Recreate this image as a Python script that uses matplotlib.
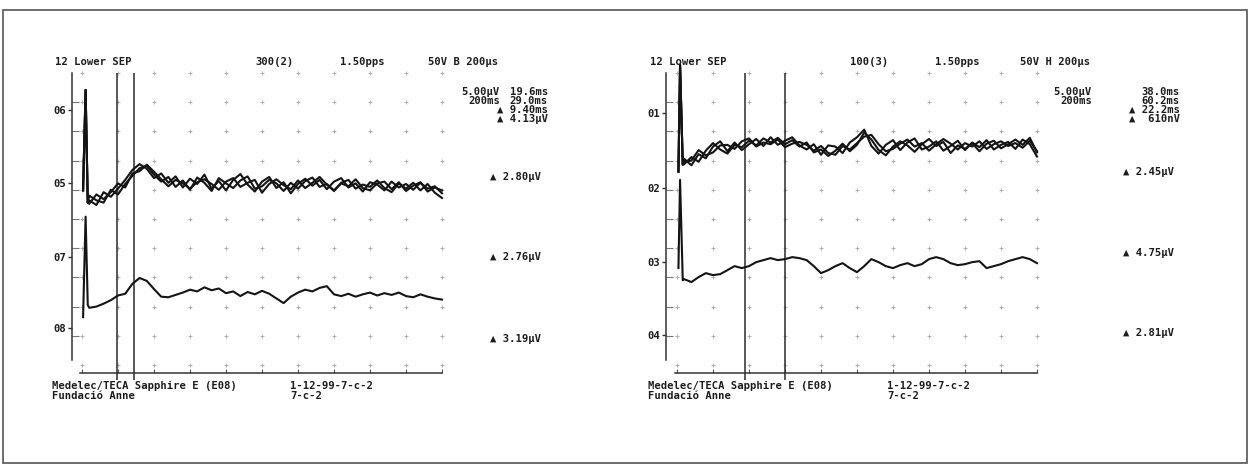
import numpy as np
import matplotlib
matplotlib.use("Agg")
import matplotlib.pyplot as plt
from matplotlib.patches import Rectangle

W, H = 1250, 465

# ---------------- data ----------------
# sample times of the averaged traces after the stimulus artifact (ms)
t_trace = np.arange(4, 201, 4)
# stimulus artifact sample times (ms)
t_art_left = [0.6, 2.0, 3.2]
t_art_right = [0.8, 1.7, 3.2]

# cursors (ms)
left_cursors = [19.6, 29.0]
right_cursors = [38.0, 60.2]

# channel baselines on the display (uV, 5 uV / division)
left_base = [30.8, 12.0]
right_base = [37.2, 17.1]

# channel labels on the amplitude axis
left_chan = ["06", "05", "07", "08"]
right_chan = ["01", "02", "03", "04"]

# left panel, upper channel: three superimposed runs (uV relative to baseline)
left_up_a = [-2.6, -3.4, -1.2, -2.0, -0.6, 0.9, 2.6, 3.6, 2.8, 1.2, 2.0, 0.4, 1.5, -0.4, 1.1, 0.2,
             1.8, -0.6, 0.7, -0.9, 0.9, 1.9, 0.1, -1.1, 0.6, 1.4, -0.5, 0.5, -1.4, 0.2, 1.1, -0.1,
             0.9, -0.7, 0.6, 1.2, -0.4, 0.3, -1.1, 0.5, 0.1, -0.9, 0.6, -0.4, 0.2, -0.8, 0.4, -0.6,
             -0.2, -1.4]
left_up_b = [-1.8, -2.6, -3.0, -0.8, -1.6, 0.2, 1.6, 2.9, 3.3, 1.8, 0.6, 1.4, -0.3, 0.8, -0.8, 1.3,
             0.4, -1.0, 1.2, 0.3, -0.5, 0.8, 1.5, -0.6, -0.2, 0.9, 0.3, -1.0, 0.4, -0.6, 0.7, 1.3,
             -0.3, 0.2, -0.9, 0.4, 0.9, -0.6, 0.1, -0.3, 0.8, -0.5, -1.2, 0.3, -0.6, 0.4, -0.9, 0.2,
             -1.3, -2.2]
left_up_c = [-3.2, -1.6, -2.4, -1.2, 0.3, -0.4, 2.0, 2.4, 3.5, 2.3, 1.0, -0.2, 0.9, 0.3, -0.6, 0.5,
             1.0, 0.2, -0.8, 0.6, 1.2, -0.3, 0.4, 0.9, -1.3, 0.2, 1.0, 0.0, -0.7, 0.8, -0.5, 0.4,
             1.4, 0.1, -1.0, 0.3, -0.2, 1.0, -0.5, -0.9, 0.3, 0.6, -0.7, 0.5, -1.0, -0.1, 0.5, -1.1,
             -0.4, -0.9]
left_up_art = [-0.9, 16.3, -3.0]

# left panel, lower channel (grand average)
left_low = [-2.2, -2.0, -1.5, -0.9, -0.1, 0.2, 1.9, 2.9, 2.4, 1.0, -0.3, -0.4, 0.0, 0.4, 0.9, 0.6,
            1.3, 0.8, 1.1, 0.3, 0.6, -0.2, 0.5, 0.1, 0.7, 0.2, -0.6, -1.4, -0.3, 0.4, 0.9, 0.6,
            1.2, 1.5, 0.1, -0.2, 0.2, -0.3, 0.1, 0.4, -0.1, 0.3, 0.0, 0.4, -0.2, -0.4, 0.1, -0.3,
            -0.6, -0.8]
left_low_art = [-3.8, 13.4, -1.7]

# right panel, upper channel: three superimposed runs
right_up_a = [-2.8, -1.6, -2.4, -0.5, 0.8, -0.3, -1.0, 0.5, 0.1, 1.2, 0.4, 1.6, 0.9, 1.7, 0.6, 1.3,
              0.2, 0.9, -0.8, -0.3, -1.4, -0.5, 0.7, -0.6, 0.5, 2.6, 1.4, -0.4, -1.3, 0.2, 1.1, 0.4,
              -0.7, 0.6, 1.5, 0.3, 1.0, -0.9, 0.4, -0.2, 0.8, -0.6, 0.7, 1.2, -0.1, 0.6, 1.4, 0.5,
              1.7, -0.8]
right_up_b = [-1.9, -3.0, -1.1, -1.8, 0.2, 1.1, -0.6, 0.9, -0.4, 0.6, 1.5, 0.3, 1.8, 0.5, 1.2, 1.8,
              0.4, -0.3, 0.6, -1.2, 0.4, 0.2, -0.9, 0.9, 1.8, 3.1, 0.3, -1.0, 0.5, 1.3, -0.4, 0.9,
              1.6, -0.3, 0.2, 1.1, -0.5, 0.3, 1.2, -0.4, 0.9, 0.1, 1.3, -0.3, 0.5, 1.0, -0.2, 1.4,
              0.6, -1.5]
right_up_c = [-2.4, -2.2, -0.4, -1.3, -0.8, 0.4, 0.5, -0.2, 1.1, 1.6, 0.2, 0.9, 0.6, 1.4, 0.1, 0.7,
              1.0, 0.5, -0.5, 0.3, -0.9, -1.2, 0.3, -0.3, 0.8, 1.9, 2.2, 0.6, -0.6, -0.2, 0.7, 1.4,
              0.2, 0.8, -0.5, 0.6, 1.5, 0.7, -0.3, 0.8, 0.2, 1.1, -0.2, 0.6, 1.1, 0.3, 0.8, 0.0,
              1.2, -0.6]
right_up_art = [-4.1, 14.2, -2.9]

# right panel, lower channel
right_low = [-2.4, -2.9, -2.05, -1.37, -1.71, -1.54, -0.86, -0.17, -0.51, -0.17, 0.51, 0.86, 1.2,
             0.86, 1.03, 1.37, 1.2, 0.86, -0.17, -1.37, -0.86, -0.17, 0.34, -0.51, -1.2, -0.17,
             1.03, 0.51, -0.17, -0.51, 0.0, 0.34, -0.17, 0.17, 1.03, 1.37, 1.03, 0.34, 0.0, 0.17,
             0.51, 0.68, -0.51, -0.17, 0.17, 0.68, 1.03, 1.37, 1.03, 0.34]
right_low_art = [-0.5, 14.6, -2.6]

# annotations
left_header = ["12 Lower SEP", "300(2)", "1.50pps", "50V B 200\u03bcs"]
right_header = ["12 Lower SEP", "100(3)", "1.50pps", "50V H 200\u03bcs"]
left_scale = ["5.00\u03bcV", "200ms"]
right_scale = ["5.00\u03bcV", "200ms"]
left_readout = ["19.6ms", "29.0ms", "\u25b2 9.40ms", "\u25b2 4.13\u03bcV"]
right_readout = ["38.0ms", "60.2ms", "\u25b2 22.2ms", "\u25b2  610nV"]
left_amps = ["\u25b2 2.80\u03bcV", "\u25b2 2.76\u03bcV", "\u25b2 3.19\u03bcV"]
right_amps = ["\u25b2 2.45\u03bcV", "\u25b2 4.75\u03bcV", "\u25b2 2.81\u03bcV"]
footer = ["Medelec/TECA Sapphire E (E08)", "Fundaci\u00f3 Anne", "1-12-99-7-c-2", "7-c-2"]

# ---------------- drawing ----------------
FONT = dict(family=["DejaVu Sans Mono", "DejaVu Sans"], weight="bold", size=7.6, color="#1c1c1c")
INK = "#141414"
PX_PER_MS = 1.8
PX_PER_UV = 29.2 / 5.0
Y0_PX = 365  # pixel row of 0 uV on display


def fx(px):
    return px / W


def fy(py):
    return 1 - py / H


def uv(py):
    return (Y0_PX - py) / PX_PER_UV


fig = plt.figure(figsize=(W / 100, H / 100), dpi=100)
fig.patches.append(Rectangle((fx(3), fy(463)), (1247 - 3) / W, (463 - 10) / H,
                             transform=fig.transFigure, fill=False, ec="#555555", lw=1.2))


def panel(origin_px, axis_px, x0, x1, cursors, bases, ups, up_art, low, low_art, t_art,
          chan, chan_px):
    y0, y1 = 50, 410
    ax = fig.add_axes([fx(x0), fy(y1), (x1 - x0) / W, (y1 - y0) / H])
    ax.set_xlim((x0 - origin_px) / PX_PER_MS, (x1 - origin_px) / PX_PER_MS)
    ax.set_ylim(uv(y1), uv(y0))
    ax.patch.set_alpha(0)
    for s in ["top", "right"]:
        ax.spines[s].set_visible(False)
    ax.spines["left"].set_position(("data", (axis_px - origin_px) / PX_PER_MS))
    ax.spines["left"].set_bounds(uv(360), uv(73))
    ax.spines["bottom"].set_position(("data", uv(373)))
    ax.spines["bottom"].set_bounds(-1.0, 200)
    for s in ["left", "bottom"]:
        ax.spines[s].set_color("#333333")
        ax.spines[s].set_linewidth(1.1)
    ax.set_yticks([uv(p) for p in chan_px])
    ax.set_yticklabels(chan, fontdict=FONT)
    ax.tick_params(axis="y", which="major", direction="out", length=3, width=1, pad=1,
                   color="#333333")
    ax.set_yticks(np.arange(5, 50, 5), minor=True)
    ax.tick_params(axis="y", which="minor", direction="in", length=5, width=0.8,
                   color="#777777")
    ax.set_xticks(np.arange(0, 201, 20))
    ax.set_xticklabels([])
    ax.tick_params(axis="x", which="major", direction="in", length=3, width=0.8,
                   color="#555555")
    # dotted measuring grid
    gx, gy = np.meshgrid(np.arange(0, 201, 20), np.arange(0, 51, 5))
    ax.plot(gx.ravel(), gy.ravel(), ls="none", marker="+", ms=3.5, mew=0.7, color="#b0b0b0")
    # cursors
    ax.vlines(cursors, uv(380), uv(73), color="#2a2a2a", lw=1.1)
    # traces
    for tr in ups:
        ax.plot(np.concatenate([t_art, t_trace]),
                bases[0] + np.concatenate([up_art, tr]), color=INK, lw=1.5)
    ax.plot(np.concatenate([t_art, t_trace]),
            bases[1] + np.concatenate([low_art, low]), color=INK, lw=1.5)
    return ax


panel(82, 72, 40, 600, left_cursors, left_base, [left_up_a, left_up_b, left_up_c],
      left_up_art, left_low, left_low_art, t_art_left, left_chan, [110, 183, 257, 328])
panel(677, 666, 630, 1200, right_cursors, right_base, [right_up_a, right_up_b, right_up_c],
      right_up_art, right_low, right_low_art, t_art_right, right_chan, [113, 188, 262, 335])


def txt(x, y, s, ha="left"):
    fig.text(fx(x), fy(y), s, ha=ha, va="center", **FONT)


for s, x in zip(left_header, [55, 255, 340, 428]):
    txt(x, 62, s)
for s, x in zip(right_header, [650, 850, 935, 1020]):
    txt(x, 62, s)

for i, s in enumerate(left_scale):
    txt(500, 92 + 9 * i, s, ha="right")
for i, s in enumerate(right_scale):
    txt(1092, 92 + 9 * i, s, ha="right")

for i, s in enumerate(left_readout):
    txt(548, 92 + 9 * i, s, ha="right")
for i, s in enumerate(right_readout):
    txt(1180, 92 + 9 * i, s, ha="right")

for s, y in zip(left_amps, [177, 257, 339]):
    txt(490, y, s)
for s, y in zip(right_amps, [172, 253, 333]):
    txt(1123, y, s)

for x0, x1 in [(52, 290), (648, 887)]:
    txt(x0, 386, footer[0])
    txt(x0, 396, footer[1])
    txt(x1, 386, footer[2])
    txt(x1, 396, footer[3])

fig.savefig("out.png", dpi=100)
